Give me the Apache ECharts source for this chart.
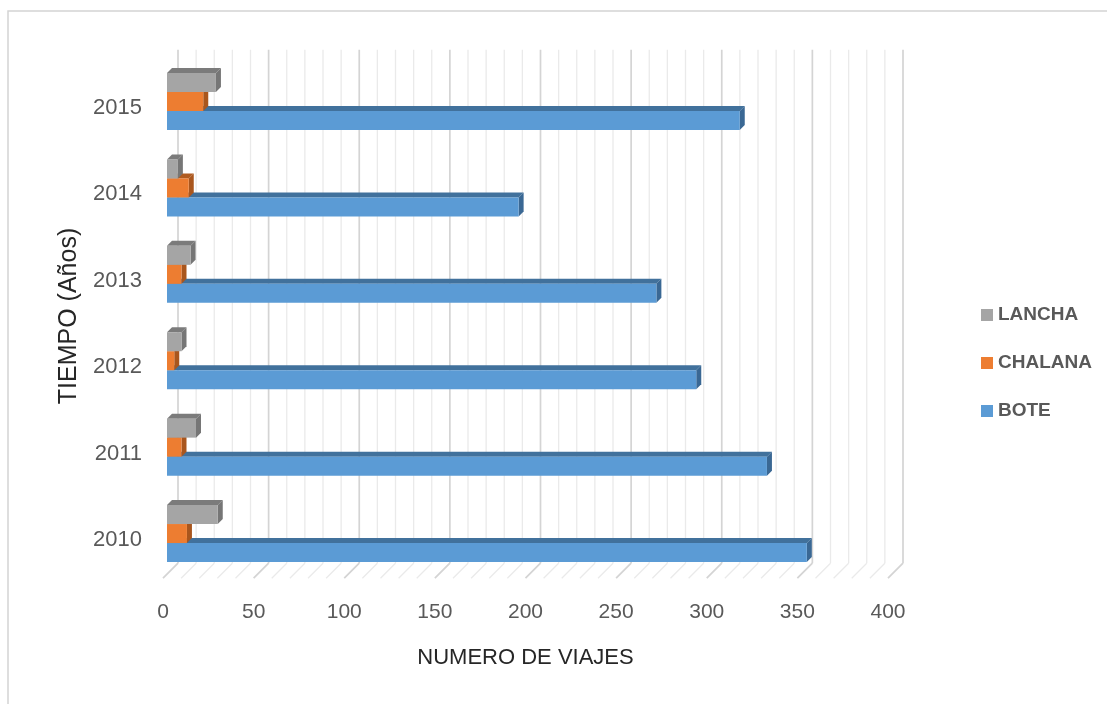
<!DOCTYPE html>
<html>
<head>
<meta charset="utf-8">
<script src="https://cdn.jsdelivr.net/npm/echarts@6/dist/echarts.min.js"></script>
<style>
html,body{margin:0;padding:0;background:#fff;}
#chart{width:1107px;height:704px;}
</style>
</head>
<body>
<div id="chart"></div>
<script>
// ---- data ----
const years = ['2010', '2011', '2012', '2013', '2014', '2015'];
const bote = [353, 331, 292, 270, 194, 316];
const chalana = [11, 8, 4, 8, 12, 20];
const lancha = [28, 16, 8, 13, 6, 27];
const xTicks = [0, 50, 100, 150, 200, 250, 300, 350, 400];
const seriesNames = ['LANCHA', 'CHALANA', 'BOTE'];
const xTitle = 'NUMERO DE VIAJES';
const yTitle = 'TIEMPO (Años)';

// ---- style ----
const FONT = '"Liberation Sans", Arial, sans-serif';
const DX = 5, DY = -5;          // 3D depth offset of bars
const WALL_DX = 15, WALL_DY = -15; // depth of plot box

const chart = echarts.init(document.getElementById('chart'));

// minor grid values derived from axis range (every 10)
const gridVals = [];
for (let v = xTicks[0]; v <= xTicks[xTicks.length - 1]; v += 10) gridVals.push(v);

function barSeries(name, values, slot, cFront, cTop, cSide) {
  return {
    name: name,
    type: 'custom',
    itemStyle: { color: cFront },
    data: values.map((v, i) => [v, i]),
    encode: { x: 0, y: 1 },
    z: 3,
    renderItem: function (params, api) {
      const v = api.value(0), ci = api.value(1);
      const p0 = api.coord([0, ci]);
      const p1 = api.coord([v, ci]);
      const band = api.size([0, 1])[1];
      const h = band * 0.22;
      const top = p0[1] + h * 0.16 - slot * h;
      const bot = top + h;
      const x0 = p0[0] + 4, x1 = p1[0] + 4;
      return {
        type: 'group',
        children: [
          { type: 'polygon', shape: { points: [[x0, top], [x0 + DX, top + DY], [x1 + DX, top + DY], [x1, top]] },
            style: { fill: cTop } },
          { type: 'polygon', shape: { points: [[x1, top], [x1 + DX, top + DY], [x1 + DX, bot + DY], [x1, bot]] },
            style: { fill: cSide } },
          { type: 'rect', shape: { x: x0, y: top, width: x1 - x0, height: h },
            style: { fill: cFront } }
        ]
      };
    }
  };
}

const wallSeries = {
  name: 'wall',
  type: 'custom',
  silent: true,
  z: 1,
  data: gridVals.map(v => [v, 0]),
  encode: { x: 0, y: 1 },
  renderItem: function (params, api) {
    const v = api.value(0);
    const cs = params.coordSys;
    const x = api.coord([v, 0])[0];
    const yFront = cs.y + cs.height - 5;
    const yBack = yFront + WALL_DY;
    const yTop = cs.y + WALL_DY;
    const major = (v % 50 === 0);
    const col = major ? '#d4d4d4' : '#eaeaea';
    const lw = major ? 1.7 : 1.3;
    return {
      type: 'group',
      children: [
        { type: 'line', shape: { x1: x + WALL_DX, y1: yTop, x2: x + WALL_DX, y2: yBack },
          style: { stroke: col, lineWidth: lw } },
        { type: 'line', shape: { x1: x, y1: yFront, x2: x + WALL_DX, y2: yBack },
          style: { stroke: col, lineWidth: lw } }
      ]
    };
  }
};

const option = {
  backgroundColor: '#ffffff',
  animation: false,
  textStyle: { fontFamily: FONT },
  graphic: [{
    type: 'rect', silent: true, z: -1,
    shape: { x: 8, y: 11, width: 1120, height: 720 },
    style: { fill: 'none', stroke: '#d4d4d4', lineWidth: 1.5 }
  }, {
    type: 'text', silent: true,
    x: 69, y: 316, rotation: Math.PI / 2,
    style: { text: yTitle, fontFamily: FONT, fontSize: 25, fill: '#262626', align: 'center', verticalAlign: 'middle' }
  }],
  legend: {
    data: seriesNames,
    orient: 'vertical',
    left: 976,
    top: 300,
    itemWidth: 12,
    itemHeight: 12,
    itemGap: 28,
    icon: 'rect',
    textStyle: { fontFamily: FONT, fontSize: 19, fontWeight: 'bold', color: '#595959', lineHeight: 20 }
  },
  grid: { left: 163, right: 219, top: 64.8, bottom: 120.8, containLabel: false },
  xAxis: {
    type: 'value',
    min: 0, max: 400, interval: 50,
    axisLine: { show: false },
    axisTick: { show: false },
    splitLine: { show: false },
    axisLabel: { fontFamily: FONT, fontSize: 21, color: '#595959', margin: 19 },
    name: xTitle,
    nameLocation: 'middle',
    nameGap: 64,
    nameTextStyle: { fontFamily: FONT, fontSize: 22, color: '#262626' }
  },
  yAxis: {
    type: 'category',
    data: years,
    axisLine: { show: false },
    axisTick: { show: false },
    splitLine: { show: false },
    axisLabel: { fontFamily: FONT, fontSize: 22, color: '#595959', margin: 21 }
  },
  series: [
    wallSeries,
    barSeries('BOTE', bote, 0, '#5b9bd5', '#41719c', '#3a6894'),
    barSeries('CHALANA', chalana, 1, '#ed7d31', '#b05c22', '#a9561d'),
    barSeries('LANCHA', lancha, 2, '#a5a5a5', '#7b7b7b', '#767676')
  ]
};
chart.setOption(option);
</script>
</body>
</html>
